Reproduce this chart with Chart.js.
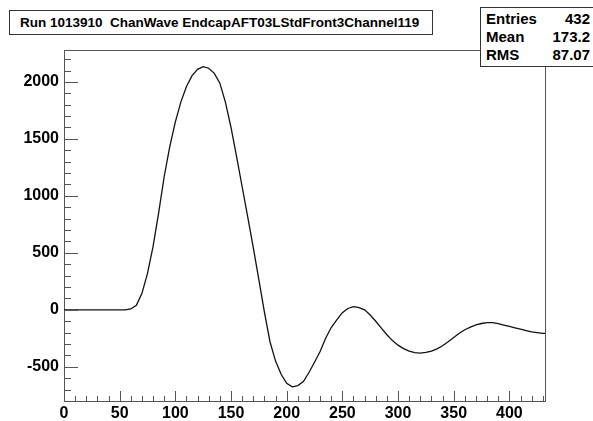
<!DOCTYPE html>
<html>
<head>
<meta charset="utf-8">
<script src="https://cdn.jsdelivr.net/npm/chart.js@4.4.0/dist/chart.umd.min.js"></script>
<style>
  body { margin: 0; background: #fff; }
  #wrap { position: relative; width: 593px; height: 421px; font-family: "Liberation Sans", Arial, sans-serif; }
  #title {
    position: absolute; left: 9px; top: 10px; width: 424px; height: 25px;
    box-sizing: border-box; border: 1px solid #333; background: #fff;
    font-weight: bold; font-size: 13.5px; line-height: 23px; padding-left: 10px; white-space: pre;
  }
  #stats {
    position: absolute; left: 480px; top: 7px; width: 113px; height: 60px;
    box-sizing: border-box; border: 1px solid #333; border-right: none; background: #fff;
    font-weight: bold; font-size: 15px;
  }
  #stats .row { position: absolute; left: 5px; right: 3px; height: 18px; line-height: 18px; }
  #stats .row span:last-child { position: absolute; right: 0; }
</style>
</head>
<body>
<div id="wrap">
  <canvas id="chart" width="593" height="421"></canvas>
  <div id="title">Run 1013910  ChanWave EndcapAFT03LStdFront3Channel119</div>
  <div id="stats">
    <div class="row" style="top:2px"><span>Entries</span><span>432</span></div>
    <div class="row" style="top:20px"><span>Mean</span><span>173.2</span></div>
    <div class="row" style="top:38px"><span>RMS</span><span>87.07</span></div>
  </div>
</div>
<script>
// sample (bin) positions, read every 5 bins off the waveform
const bins = [0, 5, 10, 15, 20, 25, 30, 35, 40, 45, 50, 55, 60, 65, 70, 75, 80, 85, 90, 95,
  100, 105, 110, 115, 120, 125, 130, 135, 140, 145, 150, 155, 160, 165, 170, 175, 180, 185, 190, 195,
  200, 205, 210, 215, 220, 225, 230, 235, 240, 245, 250, 255, 260, 265, 270, 275, 280, 285, 290, 295,
  300, 305, 310, 315, 320, 325, 330, 335, 340, 345, 350, 355, 360, 365, 370, 375, 380, 385, 390, 395,
  400, 405, 410, 415, 420, 425, 430, 432];
const counts = [0, 0, 0, 0, 0, 0, 0, 0, 0, 0, 0, 0, 8, 40, 145, 320, 556, 850, 1170, 1433,
  1650, 1825, 1960, 2055, 2110, 2134, 2120, 2075, 1989, 1820, 1600, 1345, 1080, 815, 545, 265, -20, -280, -450, -565,
  -645, -676, -665, -629, -550, -460, -366, -250, -155, -88, -25, 12, 28, 20, 0, -45, -100, -160, -219, -270,
  -310, -340, -362, -376, -380, -374, -362, -342, -315, -280, -243, -205, -175, -152, -133, -120, -112, -113, -122, -134,
  -146, -158, -170, -182, -193, -200, -206, -207];

const xTicks = [0, 50, 100, 150, 200, 250, 300, 350, 400];
const yTicks = [-500, 0, 500, 1000, 1500, 2000];

const axisColor = '#555';
const labelFont = { family: '"Liberation Sans", Arial, sans-serif', size: 16, weight: 'bold' };

// ROOT style frame with inward ticks
const frameTicks = {
  id: 'frameTicks',
  afterDraw(chart) {
    const { ctx, chartArea: a, scales: { x, y } } = chart;
    ctx.save();
    ctx.strokeStyle = axisColor;
    ctx.lineWidth = 1;
    ctx.beginPath();
    ctx.moveTo(a.left, a.top + 0.5);
    ctx.lineTo(a.right + 0.5, a.top + 0.5);
    ctx.lineTo(a.right + 0.5, a.bottom);
    // y ticks
    for (let v = -800; v <= 2200; v += 100) {
      const py = Math.round(y.getPixelForValue(v)) + 0.5;
      const len = v % 500 === 0 ? 14 : 7;
      ctx.moveTo(a.left, py);
      ctx.lineTo(a.left + len, py);
    }
    // x ticks
    for (let v = 0; v <= 430; v += 10) {
      const px = Math.round(x.getPixelForValue(v)) + 0.5;
      const len = v % 50 === 0 ? 10 : 5;
      ctx.moveTo(px, a.bottom);
      ctx.lineTo(px, a.bottom - len);
    }
    ctx.stroke();
    ctx.restore();
  }
};

new Chart(document.getElementById('chart'), {
  type: 'line',
  data: {
    datasets: [{
      data: bins.map((b, i) => ({ x: b, y: counts[i] })),
      borderColor: '#111',
      borderWidth: 1.3,
      pointRadius: 0,
      tension: 0,
      fill: false
    }]
  },
  options: {
    responsive: false,
    animation: false,
    layout: { padding: { left: 0, top: 50, right: 48, bottom: 0 } },
    plugins: { legend: { display: false }, tooltip: { enabled: false } },
    scales: {
      x: {
        type: 'linear', min: 0, max: 432,
        grid: { display: false, drawTicks: false },
        border: { display: true, color: axisColor, width: 1 },
        afterBuildTicks: s => { s.ticks = xTicks.map(v => ({ value: v })); },
        afterFit: s => { s.height = 20; },
        ticks: { color: '#000', font: labelFont, padding: 3, maxRotation: 0, callback: v => String(v) }
      },
      y: {
        min: -800, max: 2280,
        grid: { display: false, drawTicks: false },
        border: { display: true, color: axisColor, width: 1 },
        afterBuildTicks: s => { s.ticks = yTicks.map(v => ({ value: v })); },
        afterFit: s => { s.width = 64; },
        ticks: { color: '#000', font: labelFont, padding: 5, callback: v => String(v) }
      }
    }
  },
  plugins: [frameTicks]
});
</script>
</body>
</html>
